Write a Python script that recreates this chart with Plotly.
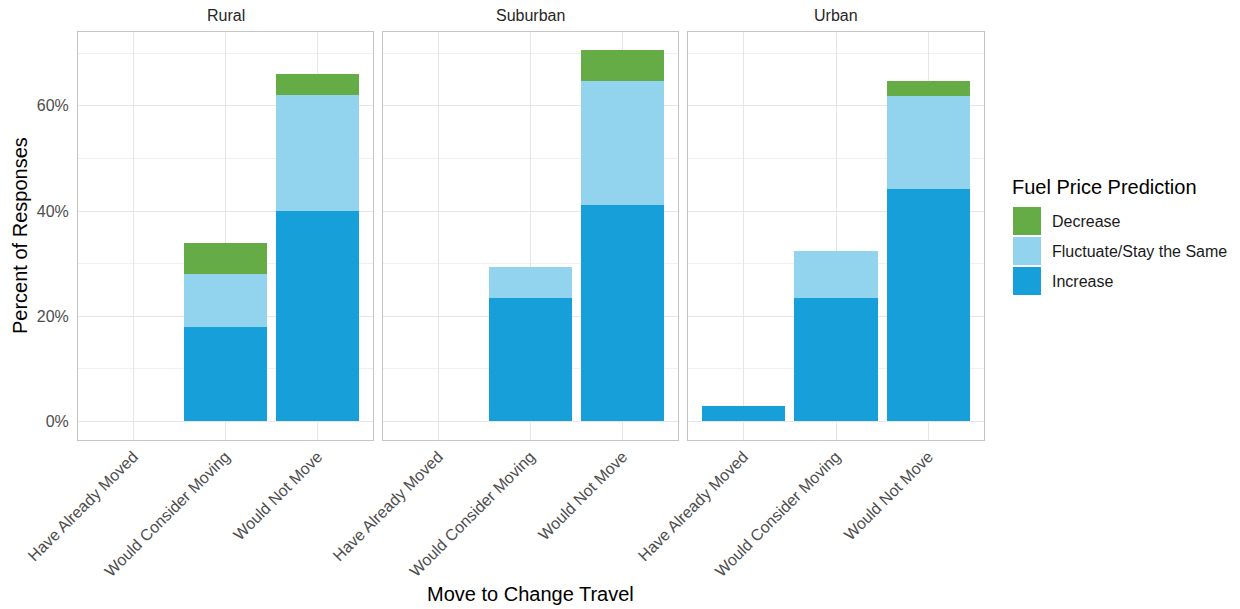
import plotly.graph_objects as go

# ---------------- data ----------------
regions = ["Rural", "Suburban", "Urban"]
moves = ["Have Already Moved", "Would Consider Moving", "Would Not Move"]
predictions = ["Increase", "Fluctuate/Stay the Same", "Decrease"]
legend_order = ["Decrease", "Fluctuate/Stay the Same", "Increase"]

rural_increase = [0, 18.0, 40.0]
rural_fluctuate = [0, 10.0, 22.0]
rural_decrease = [0, 6.0, 4.0]

suburban_increase = [0, 23.53, 41.18]
suburban_fluctuate = [0, 5.88, 23.53]
suburban_decrease = [0, 0, 5.88]

urban_increase = [2.94, 23.53, 44.12]
urban_fluctuate = [0, 8.82, 17.65]
urban_decrease = [0, 0, 2.94]

y_tick_vals = [0, 20, 40, 60]
y_tick_text = ["0%", "20%", "40%", "60%"]

# ---------------- styling ----------------
W, H = 1240, 609
colors = {
    "Increase": "#169FD9",
    "Fluctuate/Stay the Same": "#92D3EE",
    "Decrease": "#66AC46",
}
FONT = "Liberation Sans, Arial, sans-serif"
GRID = "#E6E6E6"
BORDER = "#C4C4C4"
TICKTXT = "#4D4D4D"

def px_x(p):
    return p / W

def px_y(p):
    return (H - p) / H

panel_px = [(78, 373), (383, 678), (688, 984)]
y_dom = [px_y(440), px_y(31.5)]

series = {
    "Rural": [rural_increase, rural_fluctuate, rural_decrease],
    "Suburban": [suburban_increase, suburban_fluctuate, suburban_decrease],
    "Urban": [urban_increase, urban_fluctuate, urban_decrease],
}

fig = go.Figure()
for i, reg in enumerate(regions):
    suffix = "" if i == 0 else str(i + 1)
    for pred, vals in zip(predictions, series[reg]):
        fig.add_trace(go.Bar(
            x=moves, y=vals, name=pred,
            marker=dict(color=colors[pred], line=dict(width=0)),
            width=0.9, showlegend=False,
            xaxis="x" + suffix, yaxis="y" + suffix,
        ))

layout = dict(
    width=W, height=H, autosize=False,
    margin=dict(l=0, r=0, t=0, b=0),
    template="none",
    barmode="stack",
    plot_bgcolor="white", paper_bgcolor="white",
    font=dict(family=FONT, color=TICKTXT),
)

for i, reg in enumerate(regions):
    suffix = "" if i == 0 else str(i + 1)
    x0, x1 = panel_px[i]
    layout["xaxis" + suffix] = dict(
        domain=[px_x(x0), px_x(x1)],
        anchor="y" + suffix,
        type="category",
        categoryorder="array", categoryarray=moves,
        range=[-0.6, 2.6],
        showgrid=True, gridcolor=GRID, gridwidth=1,
        showline=True, linecolor=BORDER, linewidth=1, mirror=True,
        ticks="", ticklen=0,
        tickangle=-45,
        tickfont=dict(family=FONT, size=16, color=TICKTXT),
        zeroline=False, automargin=False, fixedrange=True,
    )
    layout["yaxis" + suffix] = dict(
        domain=y_dom,
        anchor="x" + suffix,
        range=[-3.53, 74.12],
        tickvals=y_tick_vals, ticktext=y_tick_text,
        showticklabels=(i == 0),
        showgrid=True, gridcolor=GRID, gridwidth=1,
        minor=dict(tickvals=[10, 30, 50, 70], showgrid=True,
                   gridcolor=GRID, gridwidth=0.6, ticks=""),
        showline=True, linecolor=BORDER, linewidth=1, mirror=True,
        ticks="outside" if i == 0 else "", ticklen=5,
        tickcolor="rgba(0,0,0,0)", tickwidth=1,
        tickfont=dict(family=FONT, size=16, color=TICKTXT),
        zeroline=False, automargin=False, fixedrange=True,
    )

annotations = []
shapes = []
# strip labels
for i, reg in enumerate(regions):
    x0, x1 = panel_px[i]
    annotations.append(dict(
        text=reg, xref="paper", yref="paper",
        x=px_x((x0 + x1) / 2), y=px_y(16),
        xanchor="center", yanchor="middle", showarrow=False,
        font=dict(family=FONT, size=16, color="#262626"),
    ))
# axis titles
annotations.append(dict(
    text="Percent of Responses", xref="paper", yref="paper",
    x=px_x(20), y=px_y(236), textangle=-90,
    xanchor="center", yanchor="middle", showarrow=False,
    font=dict(family=FONT, size=20, color="#000000"),
))
annotations.append(dict(
    text="Move to Change Travel", xref="paper", yref="paper",
    x=px_x(530), y=px_y(594),
    xanchor="center", yanchor="middle", showarrow=False,
    font=dict(family=FONT, size=20, color="#000000"),
))
# legend (drawn manually to match big key boxes)
annotations.append(dict(
    text="Fuel Price Prediction", xref="paper", yref="paper",
    x=px_x(1010), y=px_y(187),
    xanchor="left", yanchor="middle", showarrow=False,
    font=dict(family=FONT, size=20, color="#000000"),
))
for k, pred in enumerate(legend_order):
    top = 207 + 30 * k
    shapes.append(dict(
        type="rect", xref="paper", yref="paper",
        x0=px_x(1013), x1=px_x(1041), y0=px_y(top + 28), y1=px_y(top),
        fillcolor=colors[pred], line=dict(width=0),
    ))
    annotations.append(dict(
        text=pred, xref="paper", yref="paper",
        x=px_x(1050), y=px_y(top + 14),
        xanchor="left", yanchor="middle", showarrow=False,
        font=dict(family=FONT, size=16, color="#1A1A1A"),
    ))

layout["annotations"] = annotations
layout["shapes"] = shapes
fig.update_layout(**layout)

fig.write_html(
    "out.html",
    config={"displayModeBar": False, "staticPlot": True},
    post_script="document.body.style.margin='0px';document.body.style.overflow='hidden';",
)
